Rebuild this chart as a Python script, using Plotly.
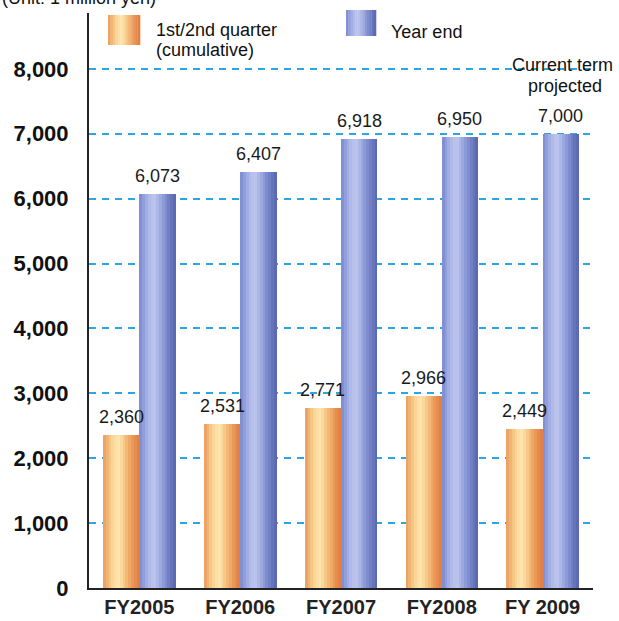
import plotly.graph_objects as go

# ---- data ----
categories = ["FY2005", "FY2006", "FY2007", "FY2008", "FY 2009"]
half_year = [2360, 2531, 2771, 2966, 2449]
year_end = [6073, 6407, 6918, 6950, 7000]
series_names = ["1st/2nd quarter (cumulative)", "Year end"]
y_ticks = [0, 1000, 2000, 3000, 4000, 5000, 6000, 7000, 8000]
y_tick_labels = ["0", "1,000", "2,000", "3,000", "4,000", "5,000", "6,000", "7,000", "8,000"]

# ---- styles ----
orange_stripes = ["#eca466", "#f1b573", "#f6c784", "#fad596", "#fcdfa6", "#fde4ad",
                  "#fbd89b", "#f7c887", "#f3b876", "#efa866", "#eb9958", "#e78c4c", "#e38142"]
blue_stripes = ["#8290d2", "#909edb", "#a1ade3", "#afbae8", "#b7c1eb", "#b9c3ec",
                "#acb7e6", "#9ca9df", "#8c9ad7", "#7e8dcf", "#7180c5", "#6674bb", "#5c6ab3"]
BAR_W = 0.36
FONT = "Liberation Sans, Arial, sans-serif"

L, R, T, B = 89, 26, 13, 33
W, H = 619, 621
PW, PH = W - L - R, H - T - B


def px(xp):
    return (xp - L) / PW


def py(yp):
    return (T + PH - yp) / PH


fig = go.Figure()

n = len(orange_stripes)
sw = BAR_W / n
for vals, stripes, start, name in [(half_year, orange_stripes, -BAR_W, series_names[0]),
                                   (year_end, blue_stripes, 0.0, series_names[1])]:
    for i, col in enumerate(stripes):
        fig.add_trace(go.Bar(
            x=categories, y=vals, name=name, showlegend=False,
            offset=start + i * sw, width=sw * 1.05,
            marker=dict(color=col, line=dict(width=0)),
            hoverinfo="skip" if i else "x+y",
        ))

# value labels
annotations = []
for vals, shift in [(half_year, -BAR_W / 2), (year_end, BAR_W / 2)]:
    for c, v in zip(categories, vals):
        annotations.append(dict(
            x=c, y=v, xref="x", yref="y", text=f"{v:,}", showarrow=False,
            xshift=shift * PW / 5, yshift=18, yanchor="middle",
            font=dict(family=FONT, size=18, color="#1a1a1a"),
        ))

# legend / notes
note_font = dict(family=FONT, size=18, color="#111")
annotations += [
    dict(x=px(154), y=py(30), xref="paper", yref="paper", xanchor="left", yanchor="middle",
         text="1st/2nd quarter", showarrow=False, font=note_font),
    dict(x=px(154), y=py(50), xref="paper", yref="paper", xanchor="left", yanchor="middle",
         text="(cumulative)", showarrow=False, font=note_font),
    dict(x=px(389), y=py(32), xref="paper", yref="paper", xanchor="left", yanchor="middle",
         text="Year end", showarrow=False, font=note_font),
    dict(x=px(562), y=py(65), xref="paper", yref="paper", xanchor="center", yanchor="middle",
         text="Current term", showarrow=False, font=note_font),
    dict(x=px(565), y=py(86), xref="paper", yref="paper", xanchor="center", yanchor="middle",
         text="projected", showarrow=False, font=note_font),
    dict(x=px(0), y=py(-2), xref="paper", yref="paper", xanchor="left", yanchor="middle",
         text="(Unit: 1 million yen)", showarrow=False, font=dict(family=FONT, size=18, color="#111")),
]

shapes = []
for stripes, x0, y0, x1, y1 in [(orange_stripes, 108, 15, 140, 45),
                                (blue_stripes, 346, 10, 376, 36)]:
    step = (x1 - x0) / len(stripes)
    for i, col in enumerate(stripes):
        shapes.append(dict(type="rect", xref="paper", yref="paper",
                           x0=px(x0 + i * step), x1=px(x0 + (i + 1) * step + 0.3),
                           y0=py(y1), y1=py(y0), fillcolor=col, line=dict(width=0)))

fig.update_layout(
    width=W, height=H,
    margin=dict(l=L, r=R, t=T, b=B, pad=0),
    paper_bgcolor="white", plot_bgcolor="white",
    barmode="overlay", bargap=0,
    showlegend=False,
    annotations=annotations, shapes=shapes,
    font=dict(family=FONT),
)
fig.update_xaxes(
    type="category", range=[-0.5, 4.5], automargin=False,
    showline=True, linecolor="#222", linewidth=2, layer="below traces",
    showgrid=False, ticks="", ticklabelstandoff=0,
    tickfont=dict(family=FONT, size=20, color="#222", weight="bold"),
)
fig.update_yaxes(
    range=[0, 8860], automargin=False,
    tickvals=y_ticks, ticktext=y_tick_labels,
    showline=True, linecolor="#222", linewidth=2, layer="below traces",
    showgrid=True, gridcolor="#2aa6e2", gridwidth=2, griddash="7px,6px",
    zeroline=False, ticks="", ticklabelstandoff=14,
    tickfont=dict(family=FONT, size=22, color="#111", weight="bold"),
)

fig.write_html("out.html")
